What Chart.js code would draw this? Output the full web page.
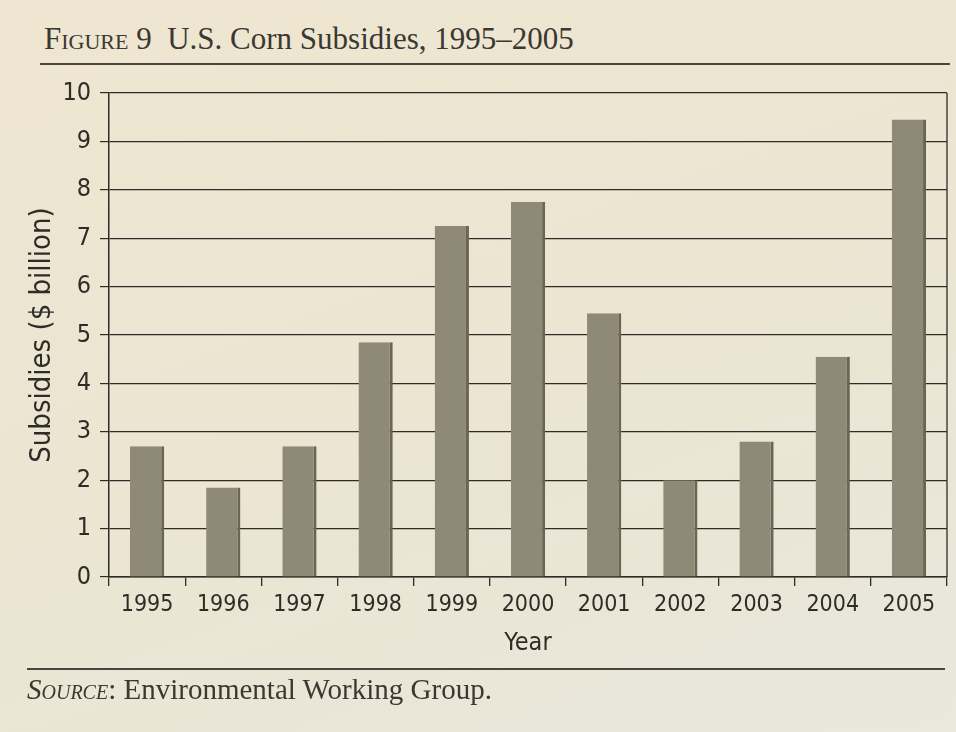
<!DOCTYPE html>
<html>
<head>
<meta charset="utf-8">
<title>U.S. Corn Subsidies, 1995–2005</title>
<script src="https://cdn.jsdelivr.net/npm/chart.js@4/dist/chart.umd.min.js"></script>
<style>
  html, body { margin: 0; padding: 0; background: #f4f3ee; }
  #page {
    position: relative; width: 956px; height: 732px; overflow: hidden;
    background: linear-gradient(160deg, #eee6d0 0%, #ebe5d3 60%, #e8e8dd 100%);
  }
  #chart { position: absolute; left: 0; top: 0; }
  .title {
    position: absolute; left: 44px; top: 21px; margin: 0;
    font-family: "Liberation Serif", "DejaVu Serif", serif; font-weight: normal;
    font-size: 31px; color: #3b3731; white-space: nowrap;
  }
  .title .fig { font-variant: small-caps; }
  .rule { position: absolute; height: 2px; background: #4a463f; }
  .source {
    position: absolute; left: 27px; top: 673px; margin: 0;
    font-family: "Liberation Serif", "DejaVu Serif", serif;
    font-size: 29px; color: #3b3731; white-space: nowrap;
  }
  .source .src { font-style: italic; font-variant: small-caps; }
</style>
</head>
<body>
<div id="page">
  <p class="title"><span class="fig">Figure</span> 9&nbsp; U.S. Corn Subsidies, 1995–2005</p>
  <div class="rule" style="left:40px; top:63px; width:910px;"></div>
  <canvas id="chart" width="956" height="732"></canvas>
  <div class="rule" style="left:27px; top:668px; width:918px;"></div>
  <p class="source"><span class="src">Source</span>: Environmental Working Group.</p>
</div>
<script>
// values ($ billion)
const years = ["1995", "1996", "1997", "1998", "1999", "2000", "2001", "2002", "2003", "2004", "2005"];
const subsidies = [2.7, 1.85, 2.7, 4.85, 7.25, 7.75, 5.45, 2.0, 2.8, 4.55, 9.45];
const yTicks = [0, 1, 2, 3, 4, 5, 6, 7, 8, 9, 10];

const ink = "#2f2c27";
const sans = "'Liberation Sans Narrow', 'DejaVu Sans Condensed', 'Open Sans', sans-serif";

// thin frame on the right side of the plot
const frame = {
  id: "frame",
  afterDraw(chart) {
    const { ctx, chartArea } = chart;
    ctx.save();
    ctx.strokeStyle = ink;
    ctx.lineWidth = 1.3;
    ctx.beginPath();
    ctx.moveTo(chartArea.right, chartArea.top);
    ctx.lineTo(chartArea.right, chartArea.bottom);
    ctx.stroke();
    ctx.restore();
  }
};

new Chart(document.getElementById("chart"), {
  type: "bar",
  data: {
    labels: years,
    datasets: [{
      label: "Subsidies ($ billion)",
      data: subsidies,
      backgroundColor: "#8f8a77",
      borderColor: "#6a6656",
      borderWidth: { top: 0, left: 0, bottom: 0, right: 3 },
      barPercentage: 0.45,
      categoryPercentage: 1
    }]
  },
  options: {
    responsive: false,
    animation: false,
    layout: { padding: { top: 93, right: 9, left: 0, bottom: 0 } },
    plugins: { legend: { display: false }, tooltip: { enabled: false } },
    scales: {
      x: {
        afterFit: s => { s.height = 155; },
        grid: { drawOnChartArea: false, offset: true, tickLength: 9, color: ink, lineWidth: 1.3 },
        border: { color: ink, width: 1.5 },
        ticks: { color: ink, padding: 5, font: { family: sans, size: 23 } },
        title: { display: true, text: "Year", color: ink, padding: { top: 0, bottom: 74 }, font: { family: sans, size: 25 } }
      },
      y: {
        min: 0,
        max: 10,
        afterFit: s => { s.width = 109; },
        afterBuildTicks: s => { s.ticks = yTicks.map(v => ({ value: v })); },
        grid: { color: ink, lineWidth: 1.2, tickLength: 9 },
        border: { color: ink, width: 1.5 },
        ticks: { color: ink, padding: 9, font: { family: sans, size: 25 } },
        title: { display: true, text: "Subsidies ($ billion)", color: ink, padding: { top: 25, bottom: 0 }, font: { family: sans, size: 29 } }
      }
    }
  },
  plugins: [frame]
});
</script>
</body>
</html>
